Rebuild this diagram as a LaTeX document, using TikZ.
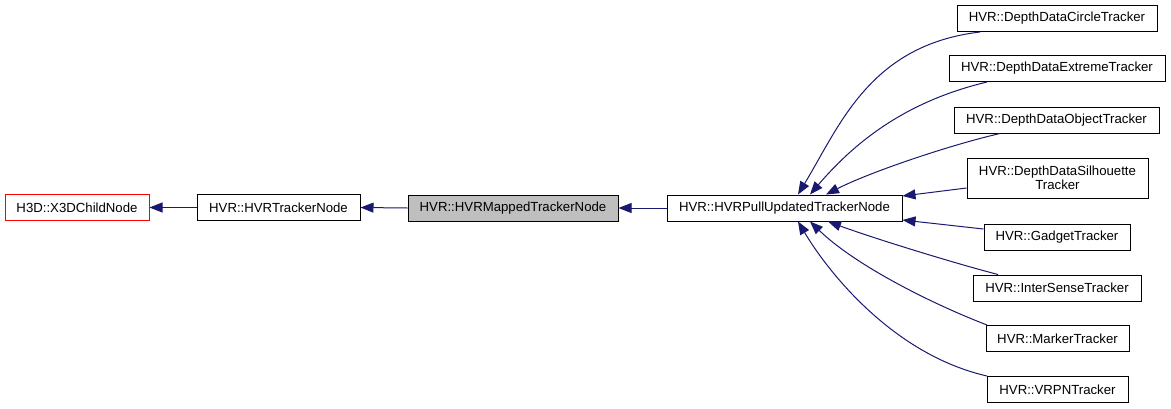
\documentclass[tikz,border=0pt]{standalone}
\usepackage{fontspec}
\setmainfont{Liberation Sans}
\usetikzlibrary{arrows.meta}
\definecolor{edgeblue}{HTML}{191970}
\definecolor{hlgray}{HTML}{BFBFBF}
\begin{document}
\begin{tikzpicture}[x=1pt,y=-1pt,
  box/.style={draw=black,line width=1pt,minimum height=26pt,inner sep=0pt,
    font=\fontsize{13.2}{14.5}\selectfont,align=center},
  edge/.style={draw=edgeblue,line width=1pt,
    {Triangle[length=13pt,width=10pt,fill=edgeblue,color=edgeblue]}-}]
\useasboundingbox[fill=white] (0,0) rectangle (1171,408);
% main chain
\node[box,draw=red,minimum width=144pt] (a) at (77,207.5) {H3D::X3DChildNode};
\node[box,minimum width=163pt] (b) at (278.5,207.5) {HVR::HVRTrackerNode};
\node[box,fill=hlgray,minimum width=210pt] (c) at (513,208) {HVR::HVRMappedTrackerNode};
\node[box,minimum width=235pt] (d) at (784.5,208) {HVR::HVRPullUpdatedTrackerNode};
% right column
\node[box,minimum width=200pt] (e1) at (1057,18.5) {HVR::DepthDataCircleTracker};
\node[box,minimum width=216pt] (e2) at (1057,68.5) {HVR::DepthDataExtremeTracker};
\node[box,minimum width=205pt] (e3) at (1056.5,120) {HVR::DepthDataObjectTracker};
\node[box,minimum width=181pt,minimum height=40pt] (e4) at (1057.5,178) {HVR::DepthDataSilhouette\\Tracker};
\node[box,minimum width=146pt] (e5) at (1057,237) {HVR::GadgetTracker};
\node[box,minimum width=168pt] (e6) at (1057,288) {HVR::InterSenseTracker};
\node[box,minimum width=143pt] (e7) at (1057.5,338.5) {HVR::MarkerTracker};
\node[box,minimum width=141pt] (e8) at (1057.5,389.5) {HVR::VRPNTracker};
% chain edges
\draw[edge] (a.east) -- (b.west);
\draw[edge] (b.east) -- (c.west);
\draw[edge] (c.east) -- (d.west);
% fan edges
\draw[edge] ([xshift=13.5pt]d.north) .. controls (840,125) and (870,45) .. ([xshift=-77pt]e1.south);
\draw[edge] ([xshift=25.5pt]d.north) .. controls (860,136) and (912,100) .. ([xshift=-70pt]e2.south);
\draw[edge] ([xshift=41.5pt]d.north) .. controls (870,172) and (950,145) .. ([xshift=-56.5pt]e3.south);
\draw[edge] ([yshift=12pt]d.east) -- ([yshift=-10pt]e4.west);
\draw[edge] ([yshift=-12pt]d.east) -- ([yshift=8pt]e5.west);
\draw[edge] ([xshift=43.5pt]d.south) .. controls (870,237) and (950,262) .. ([xshift=-59pt]e6.north);
\draw[edge] ([xshift=25.5pt]d.south) .. controls (855,265) and (930,303) .. ([xshift=-70.5pt]e7.north);
\draw[edge] ([xshift=13.5pt]d.south) .. controls (830,275) and (895,355) .. ([xshift=-70.5pt]e8.north);
\end{tikzpicture}
\end{document}
